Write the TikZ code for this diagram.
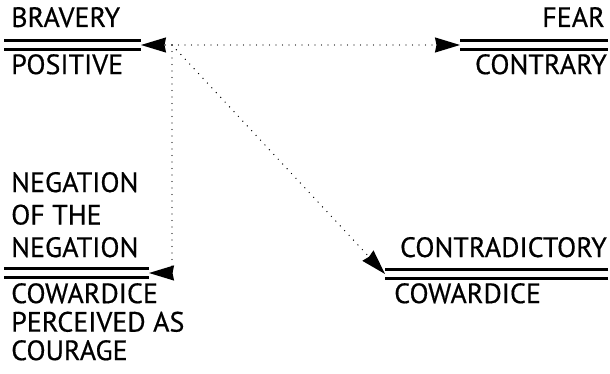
\documentclass[tikz,border=0pt]{standalone}
\usepackage{fontspec}
\newfontfamily\diagfont{PT Sans}[FakeBold=0.5]
\usetikzlibrary{arrows.meta, positioning, calc}

\begin{document}
\begin{tikzpicture}[x=1pt, y={(0pt,-1pt)},
    word/.style={inner sep=0pt, font=\diagfont\fontsize{28}{32.5}\selectfont, align=left},
    word2/.style={word, font=\diagfont\fontsize{28}{28.5}\selectfont},
    bar/.style={double, draw=black, line width=2.4pt, double distance=6.5pt},
    link/.style={line width=1.4pt, dash pattern=on 0pt off 6.5pt, line cap=round,
                 -{Stealth[length=25pt, width=15pt, inset=1.5pt]}},
]
    \useasboundingbox (0,0) rectangle (610,374);

    % Positive / contrary
    \draw[bar] (4,45) coordinate (posL) -- (141,45) coordinate (posR);
    \node[word, anchor=base west] (bravery) at (11,27) {BRAVERY};
    \node[word, anchor=north west] (positive) at (11,54) {POSITIVE};

    \draw[bar] (460,45) coordinate (conL) -- (608,45) coordinate (conR);
    \node[word, anchor=base east] (fear) at (605,27) {FEAR};
    \node[word, anchor=north east] (contrary) at (607,54) {CONTRARY};

    % Negation of the negation
    \draw[bar] (4,273) coordinate (negL) -- (149,273) coordinate (negR);
    \node[word, anchor=base west] (negation) at (11,257) {NEGATION\\OF THE\\NEGATION};
    \node[word2, anchor=north west] (perceived) at (11,283) {COWARDICE\\PERCEIVED AS\\COURAGE};

    % Contradictory
    \draw[bar] (385,274) coordinate (ctrL) -- (608,274) coordinate (ctrR);
    \node[word, anchor=base east] (contradictory) at (607,257) {CONTRADICTORY};
    \node[word, anchor=north west] (cowardice) at (394,283) {COWARDICE};

    % Links
    \coordinate (hub) at (172,45);
    \draw[link] (hub) -- (posR);
    \draw[link] (hub) -- (conL);
    \draw[link] (hub) |- (negR);
    \draw[link] (hub) -- (ctrL);
\end{tikzpicture}
\end{document}
